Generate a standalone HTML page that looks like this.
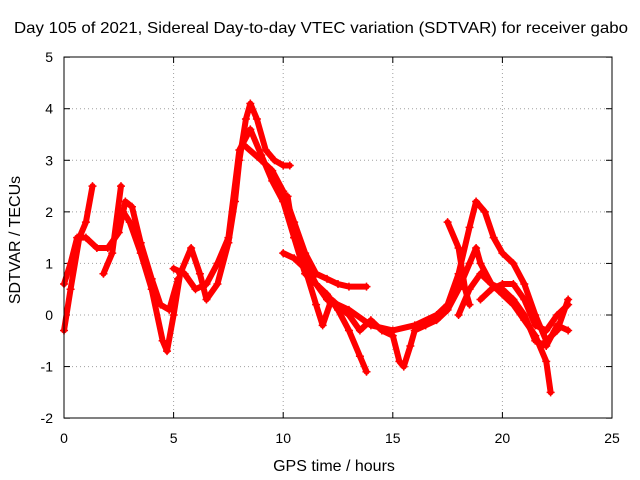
<!DOCTYPE html>
<html><head><meta charset="utf-8"><style>
body{margin:0;background:#fff}
svg{display:block;font-family:"Liberation Sans",Arial,sans-serif;font-size:14px}
</style></head><body>
<svg id="chart" width="640" height="480">
<text x="14" y="33" textLength="614" lengthAdjust="spacingAndGlyphs" style="font-size:16px">Day 105 of 2021, Sidereal Day-to-day VTEC variation (SDTVAR) for receiver gabo</text>
<text x="334" y="471" text-anchor="middle" style="font-size:16px">GPS time / hours</text>
<text transform="translate(20,240) rotate(-90)" text-anchor="middle" style="font-size:16px">SDTVAR / TECUs</text>
<g id="grid"></g><g id="ticks"></g><g id="series"></g>
<rect x="64" y="57" width="548" height="361" fill="none" stroke="#000"/>
</svg>
<script>
const xTicks=[0,5,10,15,20,25];
const yTicks=[-2,-1,0,1,2,3,4,5];
const s1=[[0,0.6],[0.3,1.0],[0.6,1.5],[1,1.5],[1.5,1.3],[2,1.3],[2.5,1.6],[2.8,2.2],[3.1,2.1],[3.5,1.4],[4,0.7],[4.4,0.2],[4.8,0.1],[5.2,0.7]];
const s2=[[0,-0.3],[0.3,0.5],[0.7,1.5],[1,1.8],[1.3,2.5]];
const s3=[[1.8,0.8],[2.2,1.2],[2.6,2.5]];
const s4=[[2.7,2.0],[3,1.8],[3.5,1.2],[4,0.5],[4.5,-0.5],[4.7,-0.7],[5,0],[5.3,0.8],[5.8,1.3],[6.2,0.8],[6.5,0.3],[7,0.6],[7.5,1.4],[7.8,2.2],[8,3.0],[8.3,3.8],[8.5,4.1],[8.8,3.8],[9.2,3.2],[9.6,3.0],[10,2.9],[10.3,2.9]];
const s5=[[5,0.9],[5.5,0.8],[6,0.5],[6.5,0.6],[7,1.0],[7.5,1.5],[8,3.2],[8.5,3.6],[9,3.1],[9.5,2.6],[10,2.2],[10.5,1.5],[11,1.0],[11.5,0.6],[12,0.4],[12.5,0.1],[13,-0.3],[13.5,-0.8],[13.8,-1.1]];
const s6=[[8.2,3.3],[9,3.0],[9.5,2.8],[10,2.4],[10.5,1.8],[11,1.2],[11.5,0.8],[12,0.7],[12.5,0.6],[13,0.55],[13.8,0.55]];
const s7=[[10,1.2],[10.5,1.1],[11,0.9],[11.5,0.2],[11.8,-0.2],[12.2,0.3],[13,0],[13.5,-0.3],[14,-0.1],[14.5,-0.3],[15,-0.4],[15.3,-0.9],[15.5,-1.0],[15.8,-0.6],[16,-0.3],[16.5,-0.2],[17,-0.1],[17.5,0.1],[18,0.5],[18.5,1.0],[18.8,1.3],[19,1.0],[19.5,0.6],[20,0.4],[20.5,0.2],[21,-0.1],[21.5,-0.4],[22,-0.9],[22.2,-1.5]];
const s8=[[10.2,2.3],[10.5,1.5],[11,0.8],[11.5,0.6],[12,0.3],[13,0.1],[14,-0.2],[15,-0.3],[16,-0.2],[17,0],[17.5,0.2],[18,0.8],[18.5,1.7],[18.8,2.2],[19.2,2.0],[19.6,1.5],[20,1.2],[20.5,1.0],[21,0.6],[21.5,0],[22,-0.5],[22.5,-0.3],[23,0.3]];
const s9=[[17.5,1.8],[18,1.3],[18.3,0.5],[18.5,0.2]];
const s10=[[18,0],[18.5,0.5],[19,0.8],[19.5,0.6],[20,0.5],[20.5,0.3],[21,0],[21.5,-0.5],[22,-0.6],[22.5,-0.2],[23,-0.3]];
const s11=[[19,0.3],[19.5,0.5],[20,0.6],[20.5,0.6],[21,0.3],[21.5,-0.2],[22,-0.3],[22.5,0],[23,0.2]];
const allSeries=[s1,s2,s3,s4,s5,s6,s7,s8,s9,s10,s11];
const X=v=>64+v*(548/25), Y=v=>315-v*(361/7);
const NS='http://www.w3.org/2000/svg';
function mk(t,a,p){const e=document.createElementNS(NS,t);for(const k in a)e.setAttribute(k,a[k]);p.appendChild(e);return e;}
const grid=document.getElementById('grid'),ticks=document.getElementById('ticks'),ser=document.getElementById('series');
xTicks.forEach(t=>{
 if(t>0&&t<25){const l=mk('line',{x1:X(t),x2:X(t),y1:57,y2:418,stroke:'#a0a0a0','stroke-dasharray':'1,3'},grid);
 }
 const tx=mk('text',{x:X(t),y:443,'text-anchor':'middle'},ticks);tx.textContent=t;
 
 mk('line',{x1:X(t),x2:X(t),y1:418,y2:412,stroke:'#000'},ticks);mk('line',{x1:X(t),x2:X(t),y1:57,y2:63,stroke:'#000'},ticks);
});
yTicks.forEach(t=>{
 if(t>-2&&t<5){const l=mk('line',{x1:64,x2:612,y1:Y(t),y2:Y(t),stroke:'#a0a0a0','stroke-dasharray':'1,3'},grid);
 }
 const tx=mk('text',{x:53,y:Y(t)+5,'text-anchor':'end'},ticks);tx.textContent=t;
 
 mk('line',{x1:64,x2:70,y1:Y(t),y2:Y(t),stroke:'#000'},ticks);mk('line',{x1:612,x2:606,y1:Y(t),y2:Y(t),stroke:'#000'},ticks);
});
allSeries.forEach((s,i)=>{
 const p=mk('polyline',{points:s.map(d=>X(d[0])+','+Y(d[1])).join(' '),fill:'none',stroke:'#f00','stroke-width':6,'stroke-linejoin':'round','stroke-linecap':'round'},ser);
 
 
 s.forEach(d=>{const x=X(d[0]),y=Y(d[1]);
  mk('path',{d:`M${x-4},${y}H${x+4}M${x},${y-4}V${y+4}`,stroke:'#f00','stroke-width':1.5},ser);});
});
</script>
</body></html>
